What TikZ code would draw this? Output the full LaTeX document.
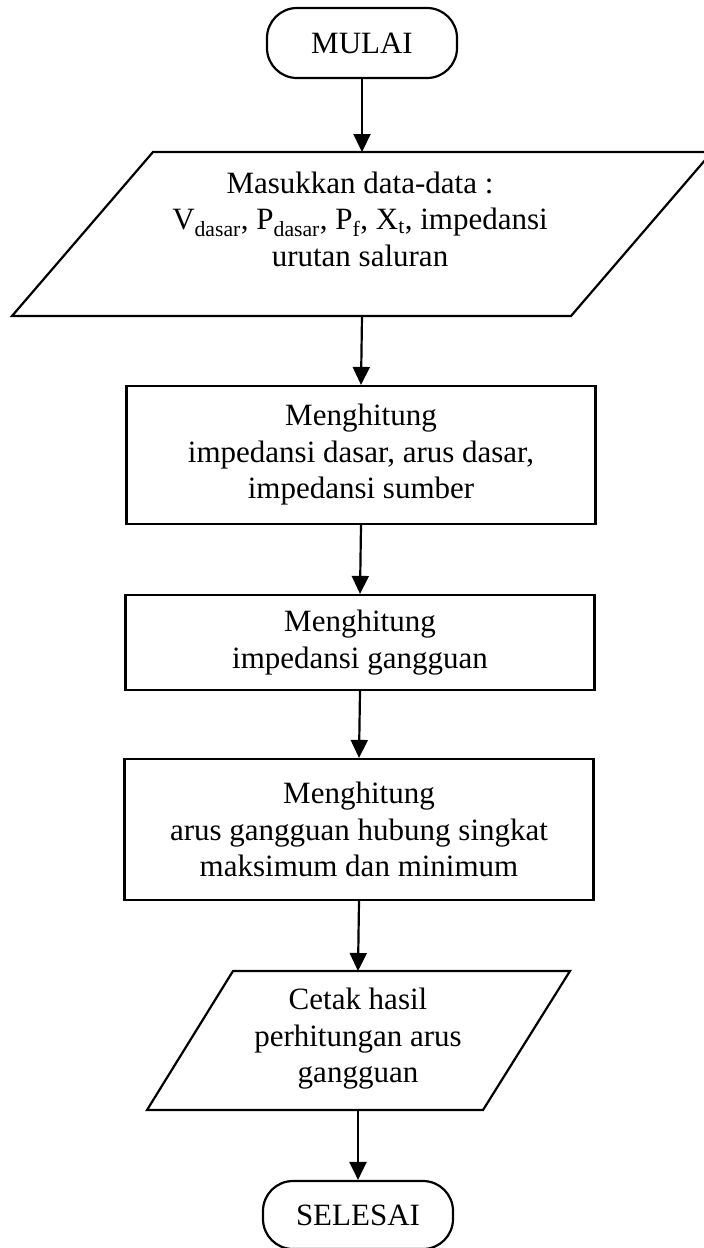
\documentclass[tikz,border=0pt]{standalone}
\usepackage{fontspec}
\setmainfont{Liberation Serif}
\usetikzlibrary{arrows.meta}
\begin{document}
\begin{tikzpicture}[x=1pt,y=-1pt,line width=2.2pt,
  every node/.style={font=\fontsize{31}{36.5}\selectfont,align=center,inner sep=0pt},
  term/.style={draw,rounded corners=30pt,minimum width=190pt,minimum height=70pt},
  proc/.style={draw,minimum width=469pt},
  flow/.style={-{Triangle[length=18pt,width=17pt]},line width=2.2pt}]
\useasboundingbox (0,0) rectangle (704,1248);

% start
\node[term] (mulai) at (362,43) {MULAI};

% input parallelogram
\coordinate (p1a) at (153,152);
\coordinate (p1b) at (712,152);
\coordinate (p1c) at (571,316);
\coordinate (p1d) at (12,316);
\draw (p1a) -- (p1b) -- (p1c) -- (p1d) -- cycle;
\coordinate (p1top) at (362,152);
\coordinate (p1bot) at (362,316);
\node (t1) at (360,219) {Masukkan data-data :\\
  V\textsubscript{dasar}, P\textsubscript{dasar}, P\textsubscript{f}, X\textsubscript{t}, impedansi\\
  urutan saluran};

% processes
\node[proc,minimum height=138pt] (b1) at (361,455)
  {Menghitung\\ impedansi dasar, arus dasar,\\ impedansi sumber};
\node[proc,minimum height=95pt] (b2) at (360,642.5)
  {Menghitung\\ impedansi gangguan};
\node[proc,minimum height=141pt] (b3) at (359,829.5)
  {Menghitung\\ arus gangguan hubung singkat\\ maksimum dan minimum};

% output parallelogram
\coordinate (p2a) at (233,971);
\coordinate (p2b) at (570,971);
\coordinate (p2c) at (483,1110);
\coordinate (p2d) at (147,1110);
\draw (p2a) -- (p2b) -- (p2c) -- (p2d) -- cycle;
\coordinate (p2top) at (358,971);
\coordinate (p2bot) at (358,1110);
\node (t2) at (358,1039) {Cetak hasil\\ perhitungan arus\\ gangguan};

% end
\node[term,minimum height=68pt] (selesai) at (358,1215) {SELESAI};

% connectors
\draw[flow] (mulai.south) -- (p1top);
\draw[flow] (p1bot) -- (b1.north);
\draw[flow] (b1.south) -- (b2.north);
\draw[flow] (b2.south) -- (b3.north);
\draw[flow] (b3.south) -- (p2top);
\draw[flow] (p2bot) -- (selesai.north);
\end{tikzpicture}
\end{document}
